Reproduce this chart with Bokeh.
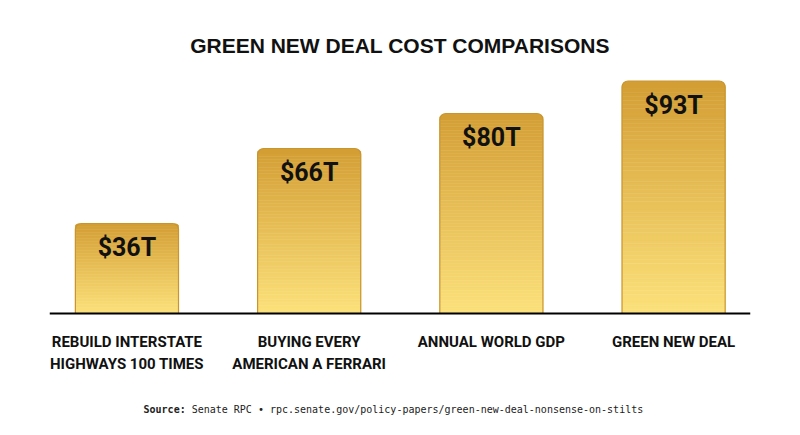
from bokeh.plotting import figure
from bokeh.models import Range1d, FixedTicker, Label
from bokeh.embed import file_html
from bokeh.resources import INLINE

# ---- data ----
categories = ["REBUILD INTERSTATE\nHIGHWAYS 100 TIMES",
              "BUYING EVERY\nAMERICAN A FERRARI",
              "ANNUAL WORLD GDP",
              "GREEN NEW DEAL"]
values = [36, 66, 80, 93]          # trillions of dollars
value_labels = ["$36T", "$66T", "$80T", "$93T"]

title_text = "GREEN NEW DEAL COST COMPARISONS"
source_bold = "Source:"
source_rest = "Senate RPC \u2022 rpc.senate.gov/policy-papers/green-new-deal-nonsense-on-stilts"

# ---- styling ----
TOP = (211, 158, 52)
BOT = (252, 225, 122)
N = 60
HALF = 0.283
COND = "Roboto"
PX = 2.5   # pixels per data unit (y)

p = figure(width=800, height=435, output_backend="svg", toolbar_location=None,
           x_range=Range1d(-0.425, 3.422), y_range=Range1d(-(435 - 313) / PX, 98),
           min_border_left=49, min_border_right=50, min_border_top=68,
           min_border_bottom=0)
p.outline_line_color = None
p.grid.grid_line_color = None
p.background_fill_color = "white"
p.border_fill_color = "white"
p.yaxis.visible = False

p.title.text = title_text
p.title.align = "center"
p.title.text_font = "Liberation Sans"
p.title.text_font_style = "bold"
p.title.text_font_size = "21px"
p.title.text_color = "#111111"
p.title.standoff = 23

xs = list(range(len(values)))

def mix(t):
    c = tuple(int(round(BOT[j] + (TOP[j] - BOT[j]) * t)) for j in range(3))
    return "#%02x%02x%02x" % c

# gradient strips
L, R, Bo, T, C = [], [], [], [], []
Lt, Rt, Bt, Tt, Ct = [], [], [], [], []
for i, v in enumerate(values):
    for k in range(N):
        b = v * k / N
        t = v * (k + 1) / N
        col = mix((k + 0.5) / N)
        if k < N - 1:
            L.append(xs[i] - HALF); R.append(xs[i] + HALF); Bo.append(b); T.append(t); C.append(col)
        else:
            Lt.append(xs[i] - HALF); Rt.append(xs[i] + HALF); Bt.append(b - v / N); Tt.append(t); Ct.append(col)

p.quad(left=L, right=R, bottom=Bo, top=T, fill_color=C, line_color=C, line_width=0.5)
p.quad(left=Lt, right=Rt, bottom=Bt, top=Tt, fill_color=Ct, line_color=None,
       border_radius=(6, 6, 0, 0))
# outline
p.quad(left=[x - HALF for x in xs], right=[x + HALF for x in xs], bottom=[0] * 4, top=values,
       fill_color=None, line_color="#c9962e", line_width=1.2, border_radius=(6, 6, 0, 0))

# value labels
p.text(x=xs, y=values, text=value_labels, y_offset=24, text_align="center",
       text_baseline="middle", text_font_size="25px", text_font_style="bold",
       text_color="#111111", text_font={"value": COND})

# axis at y = 0
ax = p.xaxis[0]
ax.fixed_location = 0
ax.ticker = FixedTicker(ticks=xs)
ax.major_label_overrides = {i: c for i, c in enumerate(categories)}
ax.major_tick_line_color = None
ax.minor_tick_line_color = None
ax.axis_line_color = "black"
ax.axis_line_width = 2
ax.major_label_standoff = 13
ax.major_label_text_font = COND
ax.major_label_text_font_style = "bold"
ax.major_label_text_font_size = "15px"
ax.major_label_text_color = "#111111"
ax.major_label_text_line_height = 1.25

# source line
src_y = -(409 - 313) / PX
p.add_layout(Label(x=0.091, y=src_y, text=source_bold,
                   text_align="left", text_baseline="middle", text_font="DejaVu Sans Mono",
                   text_font_style="bold", text_font_size="10px", text_color="#222222"))
p.add_layout(Label(x=0.091, y=src_y, x_offset=8 * 6.02, text=source_rest,
                   text_align="left", text_baseline="middle", text_font="DejaVu Sans Mono",
                   text_font_size="10px", text_color="#222222"))

open("out.html", "w").write(file_html(p, INLINE))
